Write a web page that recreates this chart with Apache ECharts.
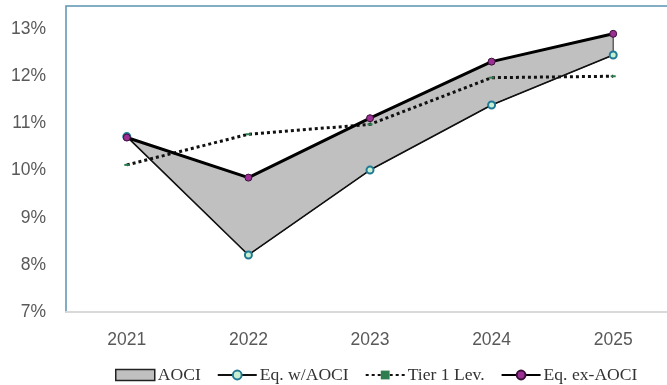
<!DOCTYPE html>
<html>
<head>
<meta charset="utf-8">
<script src="https://cdn.jsdelivr.net/npm/echarts@6/dist/echarts.min.js"></script>
<style>
  html, body { margin: 0; padding: 0; background: #fff; }
  #chart { width: 667px; height: 385px; }
</style>
</head>
<body>
<div id="chart"></div>
<script>
// Capital ratios by year (percent)
const years = ['2021', '2022', '2023', '2024', '2025'];
const eqWithAoci = [10.72, 8.21, 10.01, 11.39, 12.45];
const tier1Lev = [10.12, 10.77, 10.98, 11.97, 12.0];
const eqExAoci = [10.70, 9.85, 11.11, 12.31, 12.90];
const yTicks = { min: 7, max: 13, step: 1 };

// AOCI band: polygon between equity ex-AOCI (upper) and equity with AOCI (lower)
const bandData = years.map((y, i) => [i, eqWithAoci[i], eqExAoci[i]]);

function renderBand(params, api) {
  if (params.dataIndex !== 0) return null;
  const upper = bandData.map(d => api.coord([d[0], d[2]]));
  const lower = bandData.map(d => api.coord([d[0], d[1]])).reverse();
  return {
    type: 'polygon',
    shape: { points: upper.concat(lower) },
    style: { fill: '#c0c0c0', stroke: '#222', lineWidth: 1 }
  };
}

const chart = echarts.init(document.getElementById('chart'));
const axisFont = { fontFamily: 'Liberation Sans, Arial, sans-serif', fontSize: 17.5, color: '#595959' };

chart.setOption({
  animation: false,
  grid: {
    left: 66, top: 6, width: 608, bottom: 73,
    outerBoundsMode: 'none',
    show: true, borderColor: '#5b93b3', borderWidth: 1.5, backgroundColor: '#fff'
  },
  legend: {
    top: 361,
    left: 110,
    itemGap: 16,
    itemWidth: 39,
    itemHeight: 11,
    textStyle: { fontFamily: 'Liberation Serif, Times New Roman, serif', fontSize: 17.6, color: '#333', padding: [0, 0, 0, -2] },
    data: [
      { name: 'AOCI', icon: 'rect', itemStyle: { color: '#c0c0c0', borderColor: '#222', borderWidth: 1.5 } },
      { name: 'Eq. w/AOCI' },
      { name: 'Tier 1 Lev.' },
      { name: 'Eq. ex-AOCI' }
    ]
  },
  xAxis: {
    type: 'category',
    data: years,
    boundaryGap: true,
    axisLine: { show: true, lineStyle: { color: '#d9d9d9', width: 2 } },
    axisTick: { show: false },
    axisLabel: Object.assign({ margin: 19 }, axisFont),
    splitLine: { show: false }
  },
  yAxis: {
    type: 'value',
    min: yTicks.min,
    max: 13.49,
    interval: yTicks.step,
    axisLine: { show: false },
    axisTick: { show: false },
    splitLine: { show: false },
    axisLabel: Object.assign({
      margin: 20,
      showMaxLabel: false,
      formatter: v => (Number.isInteger(v) && v <= yTicks.max) ? v + '%' : ''
    }, axisFont)
  },
  series: [
    {
      name: 'AOCI',
      type: 'custom',
      data: bandData,
      renderItem: renderBand,
      itemStyle: { color: '#c0c0c0' },
      encode: { x: 0, y: [1, 2] },
      silent: true,
      z: 1
    },
    {
      name: 'Eq. w/AOCI',
      type: 'line',
      data: eqWithAoci,
      symbol: 'circle',
      symbolSize: 7,
      lineStyle: { color: '#111', width: 1.6 },
      itemStyle: { color: '#c8f0d0', borderColor: '#1f7a95', borderWidth: 2 },
      z: 3
    },
    {
      name: 'Tier 1 Lev.',
      type: 'line',
      data: tier1Lev,
      symbol: 'rect',
      symbolSize: [5, 2],
      lineStyle: { color: '#111', width: 3, type: [3, 3] },
      itemStyle: { color: '#2e7d4f', borderWidth: 0 },
      z: 4
    },
    {
      name: 'Eq. ex-AOCI',
      type: 'line',
      data: eqExAoci,
      symbol: 'circle',
      symbolSize: 7,
      lineStyle: { color: '#000', width: 3 },
      itemStyle: { color: '#9b2f93', borderColor: '#3a1038', borderWidth: 1 },
      z: 5
    }
  ]
});
</script>
</body>
</html>
